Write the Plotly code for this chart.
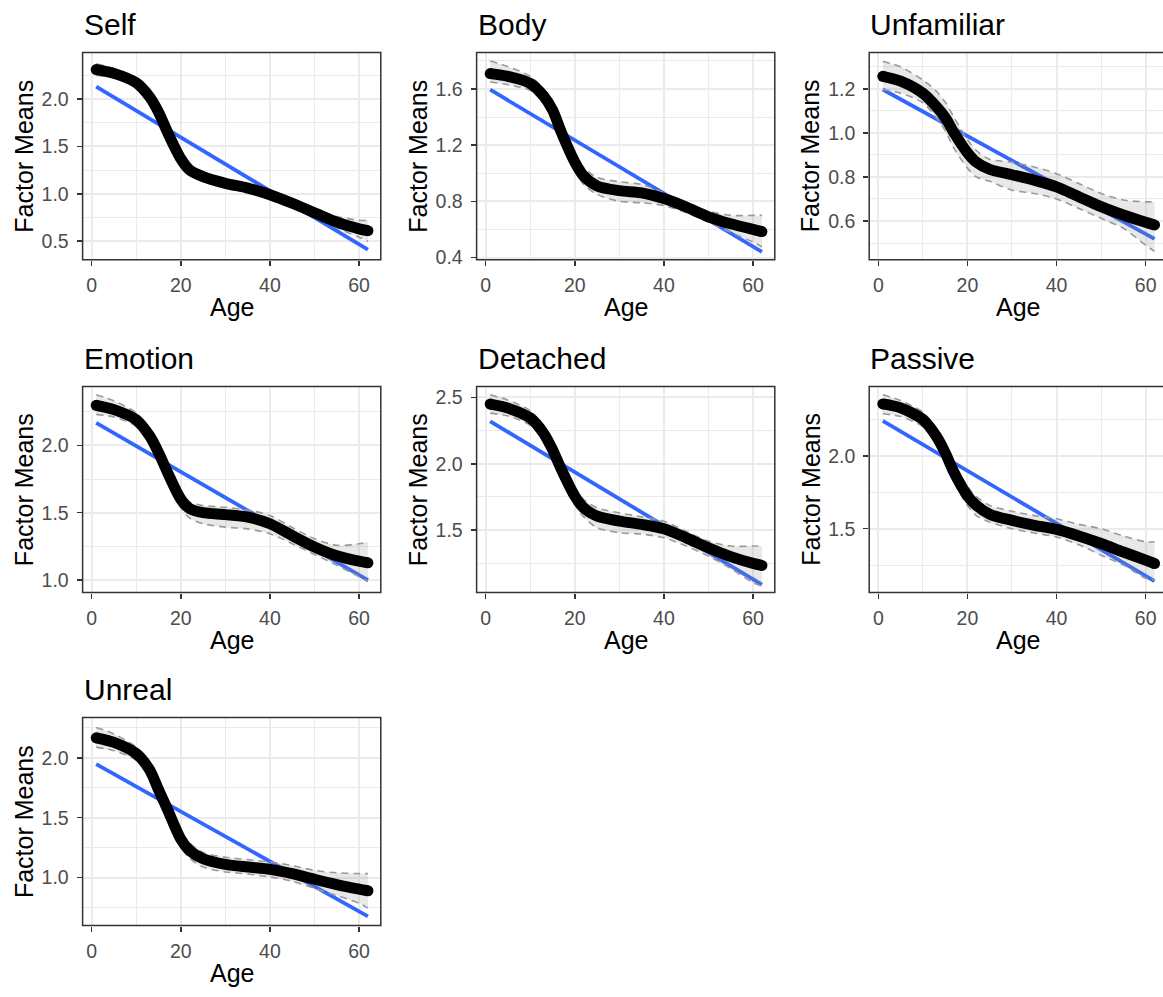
import plotly.graph_objects as go

# ---------------- data ----------------
AGE = [1, 5, 10, 13, 15, 17, 20, 22, 25, 30, 35, 40, 45, 50, 55, 60, 62]
LM_AGE = [1, 62]

PANEL_NAMES = ["Self", "Body", "Unfamiliar", "Emotion", "Detached", "Passive", "Unreal"]

self_fit = [2.31, 2.27, 2.17, 2.02, 1.86, 1.65, 1.37, 1.25, 1.18, 1.11, 1.06, 0.99, 0.90, 0.80, 0.70, 0.63, 0.61]
self_upper = [2.37, 2.32, 2.21, 2.06, 1.91, 1.70, 1.42, 1.30, 1.23, 1.15, 1.09, 1.02, 0.93, 0.84, 0.76, 0.72, 0.72]
self_lower = [2.25, 2.22, 2.13, 1.98, 1.81, 1.60, 1.32, 1.20, 1.13, 1.07, 1.03, 0.96, 0.87, 0.76, 0.64, 0.54, 0.50]
self_lm = [2.13, 0.41]

body_fit = [1.71, 1.69, 1.64, 1.55, 1.45, 1.29, 1.08, 0.98, 0.91, 0.876, 0.86, 0.82, 0.76, 0.69, 0.64, 0.60, 0.585]
body_upper = [1.80, 1.76, 1.69, 1.60, 1.51, 1.35, 1.13, 1.04, 0.97, 0.94, 0.92, 0.86, 0.79, 0.73, 0.70, 0.70, 0.70]
body_lower = [1.65, 1.63, 1.59, 1.50, 1.39, 1.23, 1.02, 0.92, 0.85, 0.80, 0.79, 0.77, 0.72, 0.65, 0.58, 0.51, 0.475]
body_lm = [1.595, 0.44]

unfam_fit = [1.257, 1.235, 1.18, 1.12, 1.07, 1.0, 0.91, 0.867, 0.834, 0.81, 0.785, 0.755, 0.71, 0.665, 0.627, 0.594, 0.582]
unfam_upper = [1.325, 1.30, 1.24, 1.19, 1.14, 1.07, 0.97, 0.92, 0.88, 0.867, 0.845, 0.815, 0.77, 0.725, 0.695, 0.687, 0.687]
unfam_lower = [1.197, 1.18, 1.137, 1.07, 1.01, 0.93, 0.84, 0.80, 0.78, 0.74, 0.725, 0.70, 0.657, 0.612, 0.567, 0.49, 0.462]
unfam_lm = [1.197, 0.519]

emo_fit = [2.297, 2.265, 2.19, 2.07, 1.946, 1.80, 1.60, 1.53, 1.50, 1.486, 1.467, 1.418, 1.33, 1.246, 1.18, 1.14, 1.128]
emo_upper = [2.376, 2.33, 2.24, 2.12, 2.00, 1.86, 1.66, 1.58, 1.553, 1.54, 1.52, 1.48, 1.39, 1.307, 1.258, 1.27, 1.283]
emo_lower = [2.23, 2.21, 2.14, 2.02, 1.89, 1.74, 1.54, 1.46, 1.418, 1.393, 1.38, 1.344, 1.27, 1.19, 1.11, 1.025, 0.988]
emo_lm = [2.167, 1.0]

det_fit = [2.45, 2.42, 2.345, 2.23, 2.107, 1.956, 1.756, 1.668, 1.605, 1.568, 1.543, 1.51, 1.442, 1.367, 1.30, 1.249, 1.234]
det_upper = [2.52, 2.48, 2.40, 2.28, 2.16, 2.02, 1.82, 1.73, 1.668, 1.63, 1.60, 1.567, 1.49, 1.417, 1.38, 1.38, 1.38]
det_lower = [2.382, 2.36, 2.29, 2.18, 2.05, 1.89, 1.69, 1.60, 1.518, 1.48, 1.47, 1.442, 1.38, 1.304, 1.21, 1.104, 1.079]
det_lm = [2.32, 1.09]

pas_fit = [2.357, 2.33, 2.25, 2.136, 2.023, 1.886, 1.727, 1.66, 1.60, 1.557, 1.523, 1.495, 1.45, 1.398, 1.34, 1.284, 1.261]
pas_upper = [2.42, 2.38, 2.30, 2.19, 2.08, 1.95, 1.79, 1.72, 1.66, 1.62, 1.59, 1.568, 1.53, 1.50, 1.45, 1.41, 1.41]
pas_lower = [2.29, 2.27, 2.20, 2.08, 1.96, 1.82, 1.66, 1.59, 1.545, 1.50, 1.47, 1.443, 1.39, 1.318, 1.25, 1.16, 1.148]
pas_lm = [2.24, 1.14]

unr_fit = [2.168, 2.13, 2.036, 1.90, 1.733, 1.57, 1.32, 1.225, 1.157, 1.11, 1.088, 1.069, 1.033, 0.986, 0.942, 0.904, 0.89]
unr_upper = [2.255, 2.20, 2.09, 1.96, 1.80, 1.64, 1.39, 1.29, 1.21, 1.17, 1.15, 1.13, 1.10, 1.06, 1.04, 1.033, 1.033]
unr_lower = [2.09, 2.06, 1.98, 1.84, 1.67, 1.50, 1.25, 1.16, 1.088, 1.047, 1.03, 1.005, 0.97, 0.91, 0.85, 0.786, 0.745]
unr_lm = [1.948, 0.676]

X_TICKS = [0, 20, 40, 60]
Y_RANGES = [[0.305, 2.49], [0.385, 1.86], [0.4245, 1.365], [0.907, 2.437],
            [1.029, 2.583], [1.061, 2.477], [0.599, 2.338]]
Y_DTICK = [0.5, 0.4, 0.2, 0.5, 0.5, 0.5, 0.5]
Y_TICK0 = [0.5, 0.4, 0.6, 1.0, 1.5, 1.5, 1.0]

FITS = [self_fit, body_fit, unfam_fit, emo_fit, det_fit, pas_fit, unr_fit]
UPPERS = [self_upper, body_upper, unfam_upper, emo_upper, det_upper, pas_upper, unr_upper]
LOWERS = [self_lower, body_lower, unfam_lower, emo_lower, det_lower, pas_lower, unr_lower]
LMS = [self_lm, body_lm, unfam_lm, emo_lm, det_lm, pas_lm, unr_lm]

# ---------------- layout geometry (page pixels) ----------------
W, H = 1163, 997
COLS = [(82.6, 380.8), (476.6, 774.8), (869.2, 1167.4)]
ROWS = [(53, 262), (390, 598), (724, 934)]
XSCALE = 4.455   # px per year


def px(x):
    return x / W


def py(y):
    return 1 - y / H


FONT = "Liberation Sans, Arial, Helvetica, sans-serif"
GRID = "#EBEBEB"
BORDER = "#333333"
TICK_SIZE = 19.5

fig = go.Figure()
layout = dict(
    width=W, height=H, margin=dict(l=0, r=0, t=0, b=0),
    paper_bgcolor="white", plot_bgcolor="white", showlegend=False,
    font=dict(family=FONT),
)
annotations = []
shapes = []

for i, name in enumerate(PANEL_NAMES):
    r, c = divmod(i, 3)
    x0, x1 = COLS[c]
    y0, y1 = ROWS[r]
    ax = "" if i == 0 else str(i + 1)
    xa, ya = "x" + ax, "y" + ax

    vis_x1 = min(x1, W)
    xr_hi = -2.05 + (vis_x1 - x0) / XSCALE

    layout["xaxis" + ax] = dict(
        domain=[px(x0), px(vis_x1)], anchor=ya, range=[-2.05, xr_hi],
        tickmode="array", tickvals=X_TICKS, ticktext=[str(v) for v in X_TICKS],
        ticks="outside", ticklen=5, tickwidth=1.5, tickcolor=BORDER,
        tickfont=dict(size=TICK_SIZE, color="#4D4D4D", family=FONT),
        showgrid=True, gridcolor=GRID, gridwidth=2,
        minor=dict(tickmode="linear", tick0=0, dtick=10, showgrid=True, gridcolor=GRID, gridwidth=1, ticks=""),
        zeroline=False, showline=False, fixedrange=True, ticklabelstandoff=3,
    )
    layout["yaxis" + ax] = dict(
        domain=[py(y1), py(y0)], anchor=xa, range=Y_RANGES[i],
        tickmode="linear", tick0=Y_TICK0[i], dtick=Y_DTICK[i], tickformat=".1f",
        ticks="outside", ticklen=5, tickwidth=1.5, tickcolor=BORDER,
        tickfont=dict(size=TICK_SIZE, color="#4D4D4D", family=FONT),
        showgrid=True, gridcolor=GRID, gridwidth=2,
        minor=dict(tickmode="linear", tick0=Y_TICK0[i], dtick=Y_DTICK[i] / 2, showgrid=True, gridcolor=GRID, gridwidth=1, ticks=""),
        zeroline=False, showline=False, fixedrange=True, ticklabelstandoff=4,
    )

    # linear fit (blue)
    fig.add_trace(go.Scatter(x=LM_AGE, y=LMS[i], mode="lines", xaxis=xa, yaxis=ya,
                             line=dict(color="#3366FF", width=3.8), hoverinfo="skip"))
    # confidence ribbon (dashed bounds + light fill)
    fig.add_trace(go.Scatter(x=AGE, y=UPPERS[i], mode="lines", xaxis=xa, yaxis=ya,
                             line=dict(color="#9A9A9A", width=1.6, dash="7px,5px", shape="spline", smoothing=0.8),
                             hoverinfo="skip"))
    fig.add_trace(go.Scatter(x=AGE, y=LOWERS[i], mode="lines", xaxis=xa, yaxis=ya, fill="tonexty",
                             fillcolor="rgba(140,140,140,0.2)",
                             line=dict(color="#9A9A9A", width=1.6, dash="7px,5px", shape="spline", smoothing=0.8),
                             hoverinfo="skip"))
    # smooth fit (thick black)
    fig.add_trace(go.Scatter(x=AGE, y=FITS[i], mode="lines", xaxis=xa, yaxis=ya,
                             line=dict(color="black", width=11, shape="spline", smoothing=0.8),
                             hoverinfo="skip"))
    fig.add_trace(go.Scatter(x=[AGE[0], AGE[-1]], y=[FITS[i][0], FITS[i][-1]], mode="markers",
                             xaxis=xa, yaxis=ya, marker=dict(color="black", size=11),
                             hoverinfo="skip"))

    # panel border
    shapes.append(dict(type="rect", xref="paper", yref="paper",
                       x0=px(x0), x1=px(x1), y0=py(y1), y1=py(y0),
                       line=dict(color=BORDER, width=1.5), fillcolor="rgba(0,0,0,0)", layer="above"))

    # panel title
    annotations.append(dict(text=name, xref="paper", yref="paper", x=px(x0 - 1), y=py(y0 - 28),
                            xanchor="left", yanchor="middle", showarrow=False,
                            font=dict(size=30, color="black", family=FONT)))
    # x axis title
    annotations.append(dict(text="Age", xref="paper", yref="paper", x=px((x0 + x1) / 2),
                            y=py(y1 + 48), xanchor="center", yanchor="middle", showarrow=False,
                            font=dict(size=25, color="black", family=FONT)))
    # y axis title
    annotations.append(dict(text="Factor Means", xref="paper", yref="paper", x=px(x0 - 59),
                            y=py((y0 + y1) / 2), xanchor="center", yanchor="middle", textangle=-90,
                            showarrow=False, font=dict(size=25, color="black", family=FONT)))

layout["annotations"] = annotations
layout["shapes"] = shapes
fig.update_layout(**layout)

fig.write_html("out.html",
               config={"displayModeBar": False, "staticPlot": True},
               post_script="document.body.style.margin='0';document.body.style.overflow='hidden';")
